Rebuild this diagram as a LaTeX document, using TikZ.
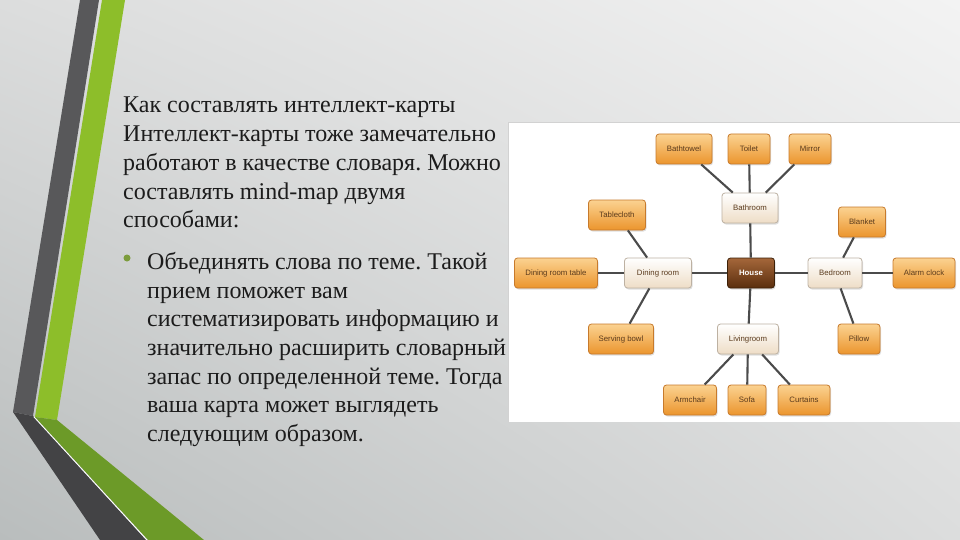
\documentclass[tikz,border=0pt]{standalone}
\usepackage{fontspec}
\setmainfont{Liberation Serif}
\newfontfamily\mapfont{Liberation Sans}
\usepackage{xcolor}
\usepackage{tikz}
\usetikzlibrary{shadows, shadings}
\definecolor{bgtop}{HTML}{F3F3F3}
\definecolor{bgmid}{HTML}{DCDDDD}
\definecolor{bglow}{HTML}{B9BDBD}
\definecolor{darkstripe}{HTML}{58585A}
\definecolor{darkstripelow}{HTML}{434345}
\definecolor{greenstripe}{HTML}{8DBE2A}
\definecolor{greenstripelow}{HTML}{6C9A28}
\definecolor{bulletgreen}{HTML}{7C9C3C}
\definecolor{slidetext}{HTML}{1C1C1C}
\definecolor{leaftop}{HTML}{FBD291}
\definecolor{leafbot}{HTML}{EB952D}
\definecolor{leafedge}{HTML}{C77A2C}
\definecolor{roomtop}{HTML}{FFFFFF}
\definecolor{roombot}{HTML}{EEDDC6}
\definecolor{roomedge}{HTML}{BDB1A2}
\definecolor{hubtop}{HTML}{A5673A}
\definecolor{hubbot}{HTML}{5A2E0E}
\definecolor{hubedge}{HTML}{3C2008}
\definecolor{wordtext}{HTML}{5A3A1C}
\definecolor{linkgray}{HTML}{4B4B4B}
\tikzstyle{leaf} = [rectangle, rounded corners=3pt, minimum height=30pt, inner sep=1pt, draw=leafedge, line width=0.8pt, top color=leaftop, bottom color=leafbot, text=wordtext, font=\mapfont\fontsize{7.8}{9}\selectfont, drop shadow={opacity=0.25, shadow xshift=1pt, shadow yshift=-1.5pt}]
\tikzstyle{room} = [leaf, draw=roomedge, top color=roomtop, bottom color=roombot]
\tikzstyle{hub} = [leaf, draw=hubedge, top color=hubtop, bottom color=hubbot, text=white, font=\mapfont\bfseries\fontsize{7.8}{9}\selectfont]
\tikzstyle{link} = [draw=linkgray, line width=2.1pt]
\tikzstyle{slide} = [anchor=north west, inner sep=0pt, align=left, text=slidetext, font=\fontsize{24}{28.7}\selectfont]

\begin{document}
\frenchspacing
\begin{tikzpicture}[x=1pt, y=-1pt]
   \useasboundingbox (0,0) rectangle (960,540);
   % background and stripes
   \shade[upper left=bgmid, upper right=bgtop, lower left=bglow, lower right=bgmid] (0,0) rectangle (960,540);
   \fill[darkstripe] (80,0) -- (99,0) -- (33,416) -- (13,412) -- cycle;
   \fill[darkstripelow] (13,412) -- (33,416) -- (146,540) -- (100,540) -- cycle;
   \fill[greenstripe] (102,0) -- (125,0) -- (57,420) -- (35,417) -- cycle;
   \fill[greenstripelow] (35,417) -- (57,420) -- (204,540) -- (148,540) -- cycle;
   \draw[white, line width=0.8pt] (34,417) -- (147,540);
   % picture panel
   \fill[white] (508,122) rectangle (960,422);
   \draw[gray!35] (508,422) -- (508,122) -- (960,122);
   % text
   \node (intro) [slide] at (123,97) {Как составлять интеллект-карты\\
      Интеллект-карты тоже замечательно\\
      работают в качестве словаря. Можно\\
      составлять mind-map двумя\\
      способами:};
   \node (dot) [circle, fill=bulletgreen, inner sep=0pt, minimum size=7pt] at (127,258) {};
   \node (topic) [slide] at (147,252) {Объединять слова по теме. Такой\\
      прием поможет вам\\
      систематизировать информацию и\\
      значительно расширить словарный\\
      запас по определенной теме. Тогда\\
      ваша карта может выглядеть\\
      следующим образом.};
   % mind map
   \node (house) [hub, minimum width=47pt] at (751,273) {House};
   \node (bathroom) [room, minimum width=56pt] at (750,208) {Bathroom};
   \node (dining) [room, minimum width=67pt] at (658,273) {Dining room};
   \node (bedroom) [room, minimum width=54pt] at (835,273) {Bedroom};
   \node (living) [room, minimum width=61pt] at (748,339) {Livingroom};
   \node (towel) [leaf, minimum width=56pt] at (684,149) {Bathtowel};
   \node (toilet) [leaf, minimum width=42pt] at (749,149) {Toilet};
   \node (mirror) [leaf, minimum width=42pt] at (810,149) {Mirror};
   \node (cloth) [leaf, minimum width=57pt] at (617,215) {Tablecloth};
   \node (table) [leaf, minimum width=83pt] at (556,273) {Dining room table};
   \node (bowl) [leaf, minimum width=65pt] at (621,339) {Serving bowl};
   \node (blanket) [leaf, minimum width=47pt] at (862,222) {Blanket};
   \node (clock) [leaf, minimum width=62pt] at (924,273) {Alarm clock};
   \node (pillow) [leaf, minimum width=42pt] at (859,339) {Pillow};
   \node (armchair) [leaf, minimum width=53pt] at (690,400) {Armchair};
   \node (sofa) [leaf, minimum width=38pt] at (747,400) {Sofa};
   \node (curtains) [leaf, minimum width=52pt] at (804,400) {Curtains};
   \draw [link] (house) -- (bathroom);
   \draw [link] (house) -- (dining);
   \draw [link] (house) -- (bedroom);
   \draw [link] (house) -- (living);
   \draw [link] (bathroom) -- (towel);
   \draw [link] (bathroom) -- (toilet);
   \draw [link] (bathroom) -- (mirror);
   \draw [link] (dining) -- (cloth);
   \draw [link] (dining) -- (table);
   \draw [link] (dining) -- (bowl);
   \draw [link] (bedroom) -- (blanket);
   \draw [link] (bedroom) -- (clock);
   \draw [link] (bedroom) -- (pillow);
   \draw [link] (living) -- (armchair);
   \draw [link] (living) -- (sofa);
   \draw [link] (living) -- (curtains);
\end{tikzpicture}
\end{document}
